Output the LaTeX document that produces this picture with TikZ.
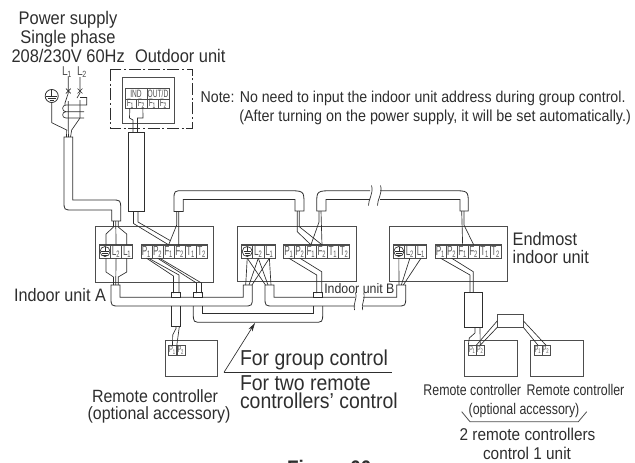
\documentclass[tikz,border=0pt]{standalone}
\usepackage{fontspec}
\setmainfont[FakeStretch=0.9]{Liberation Sans}
\newfontfamily\narrowf[FakeStretch=0.8]{Liberation Sans}
\newfontfamily\tinyf[FakeStretch=0.62]{Liberation Sans}
\usetikzlibrary{arrows.meta}
\definecolor{ink}{gray}{0.18}
\tikzset{
  x=0.75pt,y=-0.75pt,
  every node/.style={inner sep=0pt,outer sep=0pt,text=ink},
  lab/.style={anchor=base west},
  labc/.style={anchor=base},
  wire/.style={draw=ink,line width=0.5pt},
  tube/.style={draw=ink,line width=0.6pt},
  boxx/.style={draw=ink!85,line width=0.6pt},
  cell/.style={draw=ink!85,line width=0.45pt,minimum width=8.28pt,minimum height=10pt,font=\tinyf\fontsize{10}{10}\selectfont,text=ink!80},
  smallcell/.style={cell,minimum width=6pt,minimum height=7.2pt,font=\tinyf\fontsize{7}{7}\selectfont},
  hdr/.style={draw=ink!85,line width=0.45pt,font=\tinyf\fontsize{8}{8}\selectfont,text=ink!85},
  sleeve/.style={draw=ink,line width=0.6pt,fill=white},
}
\newcommand{\fpx}[1]{\fontsize{#1}{#1}\selectfont}
\newcommand{\sub}[1]{\textsubscript{\kern-0.2pt#1}}
% L block: prefix, left x
\newcommand{\lblock}[2]{%
  \draw[boxx] (#2,244.8) rectangle (#2+33.2,258.2);
  \node[cell] (#1-E) at (#2+5.53,251.5) {};
  \node[cell] (#1-L2) at (#2+16.6,251.5) {L\sub{2}};
  \node[cell] (#1-L1) at (#2+27.67,251.5) {L\sub{1}};
  \draw[wire] (#2+5.53,251.5) circle[radius=5];
  \draw[wire] (#2+5.53,246.5) -- (#2+5.53,251.5) (#2+1.8,251.5) -- (#2+9.2,251.5) (#2+2.8,253.4) -- (#2+8.2,253.4) (#2+3.8,255.2) -- (#2+7.2,255.2);
}
% P block: prefix, left x
\newcommand{\pblock}[2]{%
  \draw[boxx] (#2,244.8) rectangle (#2+66.3,258.2);
  \node[cell] (#1-P1) at (#2+5.53,251.5) {P\sub{1}};
  \node[cell] (#1-P2) at (#2+16.58,251.5) {P\sub{2}};
  \node[cell] (#1-F1) at (#2+27.63,251.5) {F\sub{1}};
  \node[cell] (#1-F2) at (#2+38.68,251.5) {F\sub{2}};
  \node[cell] (#1-T1) at (#2+49.73,251.5) {T\sub{1}};
  \node[cell] (#1-T2) at (#2+60.78,251.5) {T\sub{2}};
}
\begin{document}
\begin{tikzpicture}
\useasboundingbox (0,0) rectangle (635,462);

% ---------- texts ----------
\node[labc,font=\fpx{13.7}] (tPower) at (68,24) {Power supply};
\node[labc,font=\fpx{13.7}] (tPhase) at (68,43.3) {Single phase};
\node[lab,font=\fpx{13.7}] (tVolt) at (11.5,62.7) {208/230V 60Hz};
\node[lab,font=\fpx{13.7}] (tOut) at (135,62.7) {Outdoor unit};
\node[lab,font=\fpx{11.8}] (tNote1) at (200.7,102.7) {Note: No need to input the indoor unit address during group control.};
\node[lab,font=\fpx{11.95}] (tNote2) at (239.3,121.7) {(After turning on the power supply, it will be set automatically.)};
\node[lab,font=\fpx{13.6}] (tEnd1) at (512.7,245) {Endmost};
\node[lab,font=\fpx{13.6}] (tEnd2) at (512.7,263) {indoor unit};
\node[lab,font=\fpx{13.5}] (tUA) at (14,301) {Indoor unit A};
\node[lab,font=\fpx{10.3}] (tUB) at (324.3,293.3) {Indoor unit B};
\node[lab,font=\fpx{16.2}] (tGroup) at (240,365) {For group control};
\node[lab,font=\fpx{16.2}] (tTwo1) at (240,390) {For two remote};
\node[lab,font=\fpx{16.2}] (tTwo2) at (240,408.3) {controllers' control};
\node[labc,font=\fpx{13.3}] (tRC) at (155,402.7) {Remote controller};
\node[labc,font=\fpx{13.3}] (tOA) at (159,419.3) {(optional accessory)};
\node[labc,font=\narrowf\fpx{11.6}] (tRC2) at (472.3,395) {Remote controller};
\node[labc,font=\narrowf\fpx{11.6}] (tRC3) at (575.5,395) {Remote controller};
\node[labc,font=\narrowf\fpx{11.6}] (tOA2) at (524,414) {(optional accessory)};
\node[labc,font=\fpx{12.8}] (tTwoC) at (527.5,440) {2 remote controllers};
\node[labc,font=\fpx{12.8}] (tOne) at (527,459) {control 1 unit};
\node[lab,font=\bfseries\fpx{15.8}] (tFig) at (287,475) {Figure 66};

% ---------- supply ----------
\node[lab,font=\narrowf\fpx{9.6},text=ink!85] (labL1) at (62,75) {L\sub{1}};
\node[lab,font=\narrowf\fpx{9.6},text=ink!85] (labL2) at (77,75) {L\sub{2}};
\coordinate (PwrE) at (66.5,137);
\coordinate (PwrM) at (68.5,137);
\coordinate (PwrN) at (70.5,137);
\node[circle,draw=ink,line width=0.6pt,minimum size=9.8pt] (gnd) at (51.7,96) {};
\draw[wire] (gnd.north) -- (gnd.center) (46,96.5) -- (57.4,96.5) (47.5,98.6) -- (55.9,98.6) (49.5,100.6) -- (53.9,100.6);
\draw[wire] (labL1.south -| 68.3,0) -- (68.3,93) -- (65,103) -- (65,105);
\draw[wire] (labL2.south -| 80,0) -- (80,93) -- (77,98) (80,97.5) -- (86.7,97.5) -- (86.7,105) -- (66,105) .. controls (61.5,105) and (61.5,111.7) .. (66,111.7) -- (84,111.7) (66,111.7) .. controls (61.5,111.7) and (61.5,118) .. (66,118) -- (84,118);
\foreach \mx in {68.3,80}{\draw[wire] (\mx-2.4,88.6) -- (\mx+2.4,93.4) (\mx+2.4,88.6) -- (\mx-2.4,93.4);}
\draw[wire] (68.3,101) -- (68.3,130) -- (PwrM);
\draw[wire] (80,100) -- (80,118) -- (71.7,130) -- (PwrN);
\draw[wire] (gnd.south) -- (51.7,122.7) -- (66.7,130) -- (PwrE);
\draw[tube] (64,137) -- (64,201) .. controls (64,210) .. (73,210) -- (111.7,210) -- (111.7,221) -- (120.7,221) -- (120.7,209) .. controls (120.7,200) .. (111.7,200) -- (72.7,200) -- (72.7,137) -- cycle;

% ---------- outdoor unit ----------
\draw[draw=ink,line width=0.6pt,dash pattern=on 9pt off 2pt on 1.5pt off 2pt] (110,69) rectangle (192,128);
\node[boxx,minimum width=39pt,minimum height=34.5pt] (outInner) at (148,100) {};
\node[hdr,minimum width=16.5pt,minimum height=8pt] (hIND) at (136,93.5) {IND};
\node[hdr,minimum width=16.5pt,minimum height=8pt] (hOUT) at (158,93.5) {OUT/D};
\node[hdr,minimum width=8.25pt,minimum height=7pt] (oF1) at (130.5,103.5) {F\sub{1}};
\node[hdr,minimum width=8.25pt,minimum height=7pt] (oF2) at (141.5,103.5) {F\sub{2}};
\node[hdr,minimum width=8.25pt,minimum height=7pt] (oF3) at (152.5,103.5) {F\sub{1}};
\node[hdr,minimum width=8.25pt,minimum height=7pt] (oF4) at (163.5,103.5) {F\sub{2}};
\node[sleeve,minimum width=11.6pt,minimum height=59.5pt] (outSleeve) at (136.2,172) {};
\coordinate (outTopL) at (133,132.3);
\coordinate (outTopR) at (137.5,132.3);
\draw[wire] ([xshift=-0.5pt]oF1.south) -- (129.5,118) -- (133,120) -- (outTopL);
\draw[wire] ([xshift=1pt]oF2.south) -- (143,118) -- (137.5,118) -- (outTopR);
\coordinate (outBotL) at (133.5,212);
\coordinate (outBotR) at (138,212);

% ---------- indoor units ----------
\node[boxx,minimum width=88.6pt,minimum height=42pt] (unitA) at (154.8,254) {};
\node[boxx,minimum width=89pt,minimum height=41.6pt] (unitM) at (297,253.7) {};
\node[boxx,minimum width=89pt,minimum height=41.6pt] (unitE) at (448.3,253.7) {};
\lblock{A}{99.5}
\pblock{A}{141}
\lblock{M}{241.7}
\pblock{M}{283.3}
\lblock{E}{393.3}
\pblock{E}{435}

% ---------- upper tubes ----------
\draw[tube] (174,211.5) -- (174,200) .. controls (174,190.7) .. (183.5,190.7) -- (287,190.7) .. controls (304,190.7) .. (304,204) -- (304,211) -- (295,211) -- (295,199.5) -- (183.3,199.5) -- (183.3,211.5) -- cycle;
\draw[tube] (370,190.7) -- (334,190.7) .. controls (316.7,190.7) .. (316.7,204) -- (316.7,211) -- (326,211) -- (326,199.5) -- (370,199.5);
\draw[tube] (380,190.7) -- (452,190.7) .. controls (468.3,190.7) .. (468.3,204) -- (468.3,211) -- (460,211) -- (460,199.5) -- (380,199.5);
\draw[wire] (371.5,185.5) .. controls (374,193) and (368,200) .. (368.5,205.5);
\draw[wire] (380.5,185.5) .. controls (383,193) and (377,200) .. (377.5,205.5);

% ---------- wires of the F line ----------
\coordinate (upAL) at (176.7,211.5);
\coordinate (upAR) at (178.7,211.5);
\coordinate (upM1L) at (297.3,211);
\coordinate (upM1R) at (299.3,211);
\coordinate (upM2L) at (319,211);
\coordinate (upM2R) at (321,211);
\coordinate (upEL) at (461.7,211);
\coordinate (upER) at (464,211);
\draw[wire] (outBotL) -- (133.5,223.5) -- (A-F1.north);
\draw[wire] (outBotR) -- (138,222) -- (170,240.5);
\draw[wire] (upAL) -- (176.7,225) -- (A-F1.north);
\draw[wire] (upAR) -- (178.7,245) -- (A-F2.north);
\draw[wire] (upM1L) -- (297.3,231.7) -- (M-F1.north);
\draw[wire] (upM1R) -- (299.3,226.7) -- (M-F2.north);
\draw[wire] (upM2L) -- (319,222) -- (M-F1.north);
\draw[wire] (upM2R) -- (M-F2.north);
\draw[wire] (upEL) -- (E-F1.north);
\draw[wire] (upER) -- (464,225) -- (E-F2.north);

% ---------- power wires in unit A ----------
\coordinate (pwrOutL) at (113.5,221);
\coordinate (pwrOutM) at (115.7,221);
\coordinate (pwrOutR) at (118.2,221);
\coordinate (pwrInL) at (113.5,285);
\coordinate (pwrInM) at (115.7,285);
\coordinate (pwrInR) at (118.2,285);
\draw[wire] (pwrOutL) -- (113.5,227) -- (106,234) -- (A-E.north -| 106,0);
\draw[wire] (pwrOutM) -- (A-L2.north);
\draw[wire] (pwrOutR) -- (118.2,227) -- (126.7,234) -- (A-L1.north -| 126.7,0);
\draw[wire] (A-E.south -| 106,0) -- (106,272) -- (pwrInL|-0,277) -- (pwrInL);
\draw[wire] (A-L2.south) -- (pwrInM);
\draw[wire] (A-L1.south -| 126.7,0) -- (126.7,272) -- (pwrInR|-0,277) -- (pwrInR);

% ---------- lower tubes ----------
\draw[tube] (111,285) -- (111,297) .. controls (111,306) .. (120,306) -- (243.3,306) .. controls (252.3,306) .. (252.3,297) -- (252.3,285) -- (243.3,285) -- (243.3,297.3) -- (120,297.3) -- (120,285) -- cycle;
\draw[tube] (355,306) -- (274,306) .. controls (265,306) .. (265,297) -- (265,285) -- (274,285) -- (274,297.3) -- (355,297.3);
\draw[tube] (363,297.3) -- (396.7,297.3) -- (396.7,285) -- (405.7,285) -- (405.7,297) .. controls (405.7,306) .. (396.7,306) -- (363,306);
\draw[wire] (355.5,292.5) .. controls (357.5,300) and (352.5,304) .. (354.5,310);
\draw[wire] (363.7,292.5) .. controls (365.7,300) and (360.7,304) .. (362.7,310);
\draw[tube] (193.3,306) -- (193.3,313) .. controls (193.3,322.3) .. (202.5,322.3) -- (313.5,322.3) .. controls (322.7,322.3) .. (322.7,313) -- (322.7,306);
\draw[tube] (202.7,306) -- (202.7,313.3) -- (313.7,313.3) -- (313.7,306);
\node[sleeve,minimum width=7pt,minimum height=3.5pt] (capRS) at (176.2,295) {};
\node[sleeve,minimum width=7pt,minimum height=3.5pt] (capTL) at (198,295) {};
\node[sleeve,minimum width=7pt,minimum height=3.5pt] (capTR) at (318.2,295) {};
\draw[tube] (171.7,306) -- (171.7,326.7) -- (180.7,326.7) -- (180.7,306);

% ---------- signal wires ----------
\coordinate (capRSa) at (173.5,293);
\coordinate (capRSb) at (179,293);
\coordinate (capTLa) at (196.5,293);
\coordinate (capTLb) at (201.5,293);
\coordinate (capTRa) at (316.7,293);
\coordinate (capTRb) at (321.7,293);
\draw[wire] (A-P1.south) -- (173.5,276) -- (capRSa);
\draw[wire] ([xshift=1.5pt]A-P1.south) -- (179,275) -- (capRSb);
\draw[wire] (A-P2.south) -- (196.5,283) -- (capTLa);
\draw[wire] ([xshift=1.5pt]A-P2.south) -- (201.5,283) -- (capTLb);
\draw[wire] (M-P1.south) -- (316.7,275) -- (capTRa);
\draw[wire] (M-P2.south) -- (321.7,271.7) -- (capTRb);

% unit M power wires
\foreach \n/\a/\b in {E/245.7/265.5,L2/249/268,L1/252/271}{
  \draw[wire] (M-\n.south) -- (\a,285);
  \draw[wire] (M-\n.south) -- (\b,285);
}
% unit E power wires
\coordinate (eCapA) at (399,285);
\coordinate (eCapB) at (401.3,285);
\coordinate (eCapC) at (403.3,285);
\draw[wire] (E-E.south) -- (eCapA);
\draw[wire] (E-L2.south) -- (eCapB);
\draw[wire] (E-L1.south) -- (eCapC);

% ---------- remote controller, left ----------
\node[boxx,minimum width=39.5pt,minimum height=26.5pt] (rcA) at (191.3,358.3) {};
\node[smallcell] (rcA-P1) at (172.5,350.4) {P\sub{1}};
\node[smallcell] (rcA-P2) at (180.8,350.4) {P\sub{2}};
\coordinate (rsOutL) at (176,326.7);
\coordinate (rsOutR) at (179.3,326.7);
\draw[wire] (rsOutL) -- (176,328.5) -- (172.7,335) -- (rcA-P1.north);
\draw[wire] (rsOutR) -- (rcA-P2.north west);

% ---------- endmost unit remote controllers ----------
\node[sleeve,minimum width=13.2pt,minimum height=26pt] (eSleeve) at (473.2,309.8) {};
\coordinate (eTopL) at (470,292.3);
\coordinate (eTopR) at (473.3,292.3);
\draw[wire] (E-P1.south) -- (470,275) -- (eTopL);
\draw[wire] (E-P2.south) -- (473.3,271.7) -- (eTopR);
\node[boxx,minimum width=19.5pt,minimum height=9.7pt] (junc) at (510.3,320.8) {};
\node[boxx,minimum width=40pt,minimum height=26.5pt] (rcB) at (490.7,358.3) {};
\node[boxx,minimum width=40pt,minimum height=26.5pt] (rcC) at (556.7,358.3) {};
\node[smallcell] (rcB-P1) at (472.3,350) {P\sub{1}};
\node[smallcell] (rcB-P2) at (480.2,350) {P\sub{2}};
\node[smallcell] (rcC-P1) at (538,350) {P\sub{1}};
\node[smallcell] (rcC-P2) at (546,350) {P\sub{2}};
\coordinate (eBotL) at (475,327.3);
\coordinate (eBotR) at (480,327.3);
\draw[wire] (eBotL) -- (475,333) -- (469.3,338) -- (rcB-P1.north west);
\draw[wire] (eBotR) -- (rcB-P2.north);
\draw[wire] (junc.west) -- (rcB-P1.north east);
\draw[wire] (junc.south west) -- (rcB-P2.north);
\draw[wire] (junc.east) -- (rcC-P2.north);
\draw[wire] (junc.south east) -- (rcC-P1.north);
\coordinate (brA) at (461.7,411.7);
\coordinate (brB) at (586.7,411.7);
\draw[boxx] (brA) -- (470,421.7) -- (578.3,421.7) -- (brB);

% ---------- leader ----------
\coordinate (leadCorner) at (224,372.3);
\coordinate (leadTip) at (255,323);
\coordinate (leadEnd) at (391.7,372.3);
\draw[wire] (leadEnd) -- (leadCorner);
\draw[wire,-{Stealth[length=6.5pt,width=3.5pt]}] (leadCorner) -- (leadTip);
\end{tikzpicture}
\end{document}
